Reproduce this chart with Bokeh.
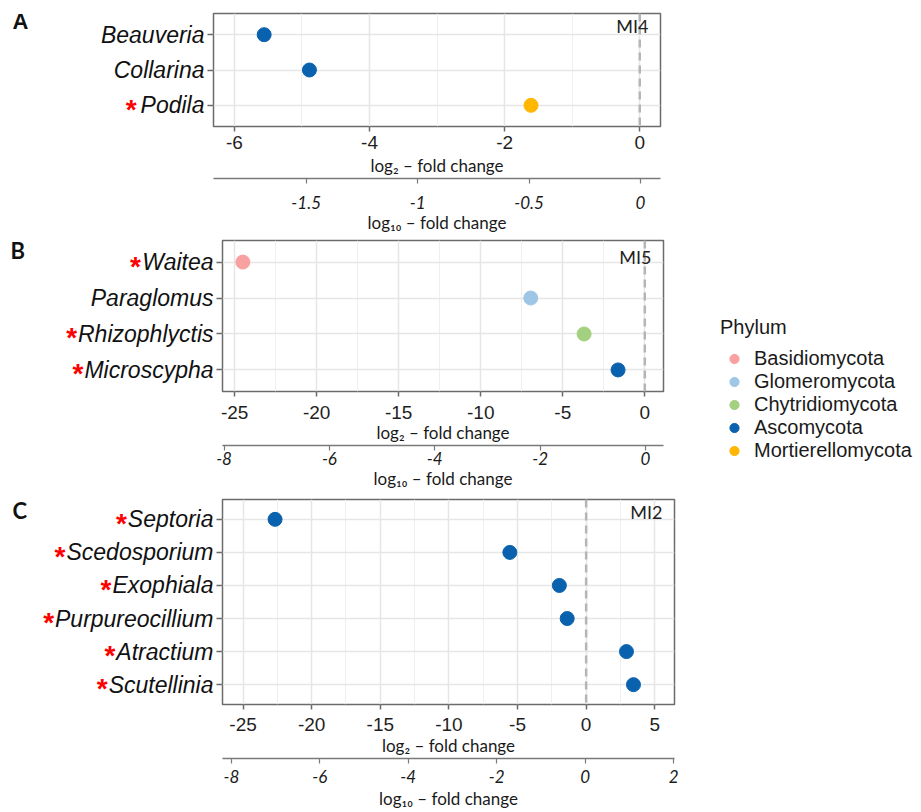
import numpy as np
from bokeh.plotting import figure
from bokeh.models import (Range1d, LinearAxis, FixedTicker, Span, Label,
                          Legend, LegendItem, ColumnDataSource)
from bokeh.layouts import column, row
from bokeh.embed import file_html
from bokeh.resources import INLINE
from bokeh.core.properties import value

# ---------------- data ----------------
phyla = ["Basidiomycota", "Glomeromycota", "Chytridiomycota", "Ascomycota", "Mortierellomycota"]
phylum_colors = ["#F9A0A0", "#9FC7E5", "#A4D17F", "#0A61AD", "#FFB703"]

a_genus = ["Beauveria", "Collarina", "Podila"]
a_log2fc = [-5.56, -4.89, -1.61]
a_phylum = ["Ascomycota", "Ascomycota", "Mortierellomycota"]
a_signif = [False, False, True]
a_ticks = [-6, -4, -2, 0]
a_tick_labels = ["-6", "-4", "-2", "0"]
a_sec_ticks = [-1.5, -1, -0.5, 0]
a_sec_labels = ["-1.5", "-1", "-0.5", "0"]

b_genus = ["Waitea", "Paraglomus", "Rhizophlyctis", "Microscypha"]
b_log2fc = [-24.5, -6.95, -3.70, -1.63]
b_phylum = ["Basidiomycota", "Glomeromycota", "Chytridiomycota", "Ascomycota"]
b_signif = [True, False, True, True]
b_ticks = [-25, -20, -15, -10, -5, 0]
b_tick_labels = ["-25", "-20", "-15", "-10", "-5", "0"]
b_sec_ticks = [-8, -6, -4, -2, 0]
b_sec_labels = ["-8", "-6", "-4", "-2", "0"]

c_genus = ["Septoria", "Scedosporium", "Exophiala", "Purpureocillium", "Atractium", "Scutellinia"]
c_log2fc = [-22.67, -5.56, -1.95, -1.38, 2.94, 3.45]
c_phylum = ["Ascomycota"] * 6
c_signif = [True, True, True, True, True, True]
c_ticks = [-25, -20, -15, -10, -5, 0, 5]
c_tick_labels = ["-25", "-20", "-15", "-10", "-5", "0", "5"]
c_sec_ticks = [-8, -6, -4, -2, 0, 2]
c_sec_labels = ["-8", "-6", "-4", "-2", "0", "2"]

# Arial / Liberation Sans advance widths (per 1000 em) for measuring labels
ARIAL = dict(zip("ABCDEFGHIJKLMNOPQRSTUVWXYZ",
                 [667, 667, 722, 722, 667, 611, 778, 722, 278, 500, 667, 556, 833,
                  722, 778, 667, 778, 722, 667, 611, 722, 667, 944, 667, 667, 611]))
ARIAL.update(dict(zip("abcdefghijklmnopqrstuvwxyz",
                      [556, 556, 500, 556, 556, 278, 556, 556, 222, 222, 500, 222, 833,
                       556, 556, 556, 556, 333, 500, 278, 556, 500, 722, 500, 500, 500])))


def text_w(s, size):
    return sum(ARIAL.get(c, 556) for c in s) / 1000.0 * size


YLAB_SIZE = 23
MAIN_LEFT = 8
MAIN_RIGHT = 12
FRAME_C = "#6b6b6b"


def build(genus, l2fc, phylum, signif, xr, ticks, tick_labels, sr, sec_ticks, sec_labels,
          mi_text, tag, lab_w, frame_w, vert, star_gap, tag_pos, tag_font, mi_dy, std):
    n = len(genus)
    rows = list(range(n, 0, -1))
    bt, fh, bb = vert
    height = bt + fh + bb
    yr = Range1d(0.4, n + 0.6)

    p = figure(width=MAIN_LEFT + frame_w + MAIN_RIGHT, height=height,
               x_range=Range1d(*xr), y_range=yr,
               output_backend="svg", toolbar_location=None, tools="",
               min_border_left=MAIN_LEFT, min_border_right=MAIN_RIGHT,
               min_border_top=bt, min_border_bottom=bb)
    p.background_fill_color = "white"
    p.outline_line_color = FRAME_C
    p.outline_line_width = 1.5

    minor = [(a + b) / 2 for a, b in zip(ticks, ticks[1:])]
    xt = FixedTicker(ticks=ticks, minor_ticks=minor)
    xa = p.xaxis[0]
    xa.ticker = xt
    xa.major_label_overrides = dict(zip(ticks, tick_labels))
    xa.axis_line_color = None
    xa.major_tick_out = 5
    xa.major_tick_in = 0
    xa.major_tick_line_color = FRAME_C
    xa.major_tick_line_width = 1.5
    xa.minor_tick_line_color = None
    xa.major_label_standoff = std[0]
    xa.major_label_text_font = "Liberation Sans"
    xa.major_label_text_font_size = "19px"
    xa.major_label_text_color = "#1f1f1f"
    xa.axis_label = "log\u2082 \u2013 fold change"
    xa.axis_label_text_font = "Lato"
    xa.axis_label_text_font_size = "17px"
    xa.axis_label_text_font_style = "normal"
    xa.axis_label_text_color = "#1a1a1a"
    xa.axis_label_standoff = std[1]

    p.xgrid.ticker = xt
    p.xgrid.grid_line_color = "#e6e6e6"
    p.xgrid.grid_line_width = 1.5
    p.xgrid.minor_grid_line_color = "#efefef"
    p.xgrid.minor_grid_line_width = 1

    yt = FixedTicker(ticks=rows)
    ya = p.yaxis[0]
    ya.ticker = yt
    ya.major_label_overrides = {r: "" for r in rows}
    ya.axis_line_color = None
    ya.major_tick_out = 6
    ya.major_tick_in = 0
    ya.major_tick_line_color = FRAME_C
    ya.major_tick_line_width = 1.5
    ya.minor_tick_line_color = None
    ya.major_label_standoff = 0
    p.ygrid.ticker = yt
    p.ygrid.grid_line_color = "#e6e6e6"
    p.ygrid.grid_line_width = 1.5

    p.extra_x_ranges = {"log10": Range1d(*sr)}
    sa = LinearAxis(x_range_name="log10", ticker=FixedTicker(ticks=sec_ticks))
    sa.major_label_overrides = dict(zip(sec_ticks, sec_labels))
    sa.axis_line_color = "#7a7a7a"
    sa.axis_line_width = 1.5
    sa.major_tick_out = 5
    sa.major_tick_in = 0
    sa.major_tick_line_color = "#7a7a7a"
    sa.major_tick_line_width = 1.2
    sa.minor_tick_line_color = None
    sa.major_label_standoff = std[2]
    sa.major_label_text_font = "Lato"
    sa.major_label_text_font_style = "italic"
    sa.major_label_text_font_size = "17px"
    sa.major_label_text_color = "#1a1a1a"
    sa.axis_label = "log\u2081\u2080 \u2013 fold change"
    sa.axis_label_text_font = "Lato"
    sa.axis_label_text_font_size = "17px"
    sa.axis_label_text_font_style = "normal"
    sa.axis_label_text_color = "#1a1a1a"
    sa.axis_label_standoff = std[3]
    p.add_layout(sa, "below")

    p.add_layout(Span(location=0, dimension="height", line_color="#b5b5b5",
                      line_dash="8 5", line_width=2.5))

    renderers = {}
    for ph, col in zip(phyla, phylum_colors):
        idx = [i for i in range(n) if phylum[i] == ph]
        src = ColumnDataSource(dict(x=[l2fc[i] for i in idx], y=[rows[i] for i in idx]))
        renderers[ph] = p.scatter(x="x", y="y", source=src, size=14, fill_color=col,
                                  line_color=col, marker="circle")

    p.add_layout(Label(x=xr[1], y=n + 0.6, text=mi_text, x_offset=-12, y_offset=mi_dy,
                       text_align="right", text_baseline="top", text_font="Lato",
                       text_font_size="18px", text_color="#222222"))

    # ---- label strip on the left (genus names, red asterisks, panel tag) ----
    lx = Range1d(0, lab_w)
    lab = figure(width=lab_w, height=height, x_range=lx, y_range=yr,
                 output_backend="svg", toolbar_location=None, tools="",
                 x_axis_location=None, y_axis_location=None,
                 min_border_left=0, min_border_right=0, min_border_top=bt, min_border_bottom=bb)
    lab.outline_line_color = None
    lab.grid.visible = False
    right_edge = [lx.end] * n
    lab.text(x=right_edge, y=rows, text=genus, x_offset=-1, text_align="right",
             text_baseline="middle", text_font=value("Liberation Sans"),
             text_font_style="italic", text_font_size=f"{YLAB_SIZE}px", text_color="#111111")
    sx, sy, so = [], [], []
    for r, g, s in zip(rows, genus, signif):
        if s:
            sx.append(lx.end)
            sy.append(r)
            so.append(-(1 + text_w(g, YLAB_SIZE) + star_gap))
    if sx:
        lab.text(x=sx, y=sy, text=["*"] * len(sx), x_offset=so, y_offset=4,
                 text_align="right", text_baseline="middle", text_font=value("Liberation Sans"),
                 text_font_style="bold", text_font_size="28px", text_color="#ff0000")
    lab.text(x=[lx.start], y=[yr.end], text=[tag], x_offset=tag_pos[0], y_offset=tag_pos[1],
             text_align="left", text_baseline="top", text_font=value(tag_font),
             text_font_style="bold", text_font_size="22px", text_color="#111111")
    return lab, p, renderers


la, pa, _ = build(a_genus, a_log2fc, a_phylum, a_signif, (-6.31, 0.307), a_ticks, a_tick_labels,
                  (-1.916, 0.09), a_sec_ticks, a_sec_labels, "MI4", "A",
                  205, 447, (13, 113, 110), 4, (12, -5), "Liberation Sans", -1, (4, 3, 12, 0))
lb, pb, rb = build(b_genus, b_log2fc, b_phylum, b_signif, (-25.74, 1.14), b_ticks, b_tick_labels,
                   (-8.03, 0.342), b_sec_ticks, b_sec_labels, "MI5", "B",
                   214, 441, (4, 157, 94), 1, (10, -4), "Lato", -5, (9, 0, 1, 0))
lc, pc, _ = build(c_genus, c_log2fc, c_phylum, c_signif, (-26.5, 6.44), c_ticks, c_tick_labels,
                  (-8.2, 2.02), c_sec_ticks, c_sec_labels, "MI2", "C",
                  214, 452, (8, 209, 103), 1, (12, -3), "Lato", -1, (8, 1, 6, 2))

# ---- legend strip on the right ----
lg = figure(width=230, height=480, x_range=Range1d(0, 1), y_range=Range1d(0, 1),
            output_backend="svg", toolbar_location=None, tools="",
            x_axis_location=None, y_axis_location=None, min_border=0)
lg.outline_line_color = None
lg.grid.visible = False
items = []
for ph, col in zip(phyla, phylum_colors):
    # legend proxy: one undefined (NaN) point, so only the legend swatch is drawn
    r = lg.scatter(x=np.array([np.nan]), y=np.array([np.nan]), size=14,
                   fill_color=col, line_color=col, marker="circle")
    items.append(LegendItem(label=ph, renderers=[r]))
legend = Legend(items=items, location=(34, 18), title="Phylum", orientation="vertical")
legend.title_text_font = "Liberation Sans"
legend.title_text_font_size = "20px"
legend.title_text_font_style = "normal"
legend.title_text_color = "#1a1a1a"
legend.title_standoff = 8
legend.label_text_font = "Liberation Sans"
legend.label_text_font_size = "20px"
legend.label_text_color = "#1a1a1a"
legend.glyph_width = 28
legend.glyph_height = 23
legend.label_height = 20
legend.spacing = 0
legend.label_standoff = 6
legend.padding = 0
legend.margin = 0
legend.border_line_color = None
legend.background_fill_alpha = 0
lg.add_layout(legend)

layout = row(column(row(la, pa), row(lb, pb), row(lc, pc)), lg)
open("out.html", "w").write(file_html(layout, INLINE))
